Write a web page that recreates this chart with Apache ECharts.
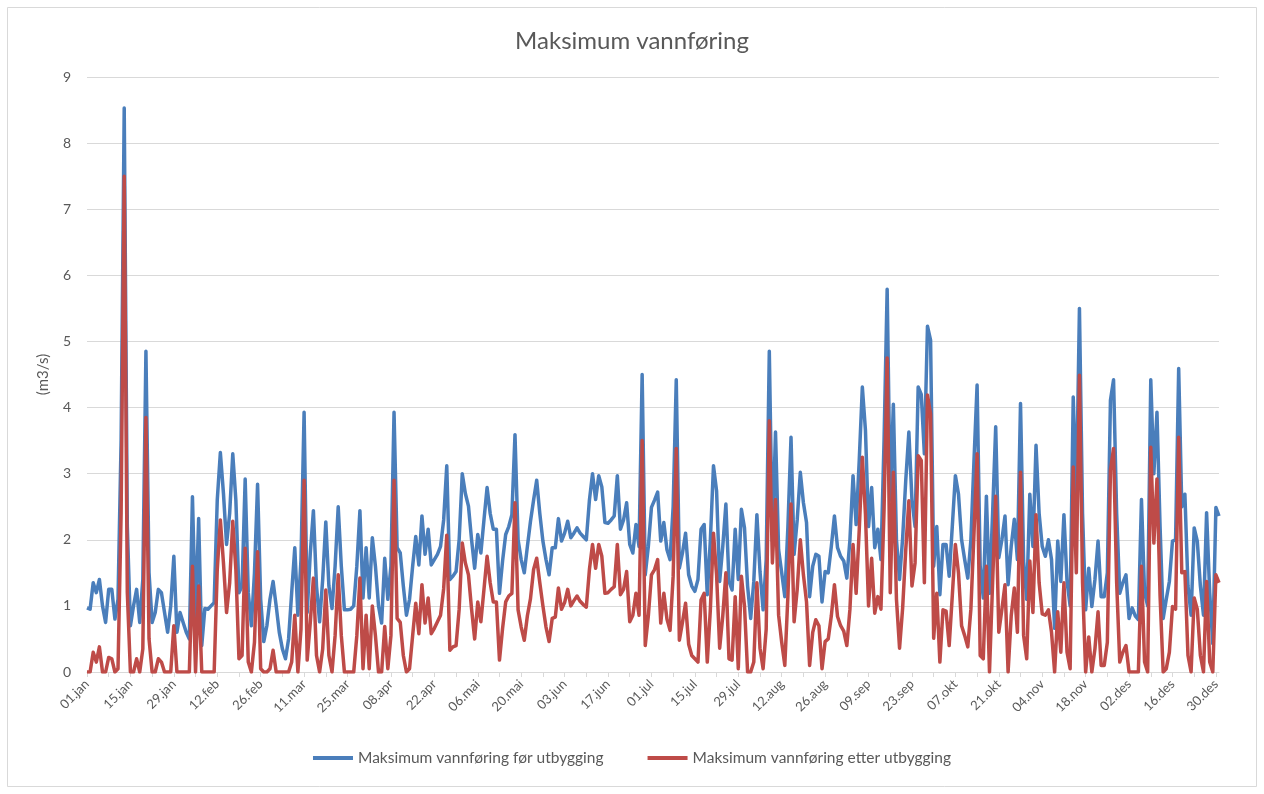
<!DOCTYPE html>
<html>
<head>
<meta charset="utf-8">
<title>Maksimum vannføring</title>
<script src="https://cdn.jsdelivr.net/npm/echarts@6/dist/echarts.min.js"></script>
<style>
  html, body { margin: 0; padding: 0; background: #ffffff; }
  #chart { width: 1264px; height: 794px; }
</style>
</head>
<body>
<div id="chart"></div>
<script>
// dagsdatoer (skuddår, 366 dager)
const monthNames = ['jan', 'feb', 'mar', 'apr', 'mai', 'jun', 'jul', 'aug', 'sep', 'okt', 'nov', 'des']
const monthDays = [31, 29, 31, 30, 31, 30, 31, 31, 30, 31, 30, 31]
const categories = []
monthNames.forEach(function (m, i) {
  for (let d = 1; d <= monthDays[i]; d++) {
    categories.push((d < 10 ? '0' + d : '' + d) + '.' + m)
  }
})

const seriesNames = ['Maksimum vannføring før utbygging', 'Maksimum vannføring etter utbygging']
const yTicks = [0, 1, 2, 3, 4, 5, 6, 7, 8, 9]

// m3/s, før utbygging (14 dager per rad)
const forUtbygging = [
  0.97, 0.95, 1.35, 1.2, 1.4, 1.0, 0.75, 1.25, 1.25, 0.8, 1.1, 3.5, 8.53, 2.2,
  0.7, 1.0, 1.25, 0.75, 1.4, 4.85, 1.5, 0.75, 0.9, 1.25, 1.2, 0.9, 0.6, 1.0,
  1.75, 0.6, 0.9, 0.75, 0.6, 0.5, 2.65, 0.8, 2.32, 0.4, 0.96, 0.95, 1.0, 1.05,
  2.6, 3.32, 2.7, 1.93, 2.4, 3.3, 2.6, 1.2, 1.3, 2.92, 1.2, 0.7, 1.5, 2.84,
  1.1, 0.46, 0.7, 1.1, 1.37, 1.0, 0.6, 0.35, 0.2, 0.5, 1.2, 1.88, 0.86, 1.7,
  3.93, 0.9, 1.8, 2.44, 1.3, 0.76, 1.4, 2.27, 1.3, 0.96, 1.6, 2.5, 1.6, 0.94,
  0.94, 0.95, 1.0, 1.6, 2.44, 1.12, 1.88, 1.12, 2.03, 1.6, 1.0, 0.74, 1.72, 1.1,
  1.6, 3.93, 1.88, 1.8, 1.3, 0.86, 1.1, 1.6, 2.05, 1.62, 2.36, 1.78, 2.16, 1.62,
  1.7, 1.78, 1.9, 2.3, 3.12, 1.4, 1.45, 1.52, 2.0, 3.0, 2.7, 2.51, 2.0, 1.57,
  2.08, 1.8, 2.3, 2.79, 2.4, 2.16, 2.16, 1.19, 1.68, 2.08, 2.2, 2.38, 3.59, 2.0,
  1.7, 1.5, 1.9, 2.28, 2.6, 2.9, 2.4, 1.98, 1.7, 1.47, 1.88, 1.88, 2.32, 1.98,
  2.1, 2.28, 2.03, 2.1, 2.18, 2.1, 2.05, 2.0, 2.6, 3.0, 2.61, 2.97, 2.8, 2.26,
  2.25, 2.3, 2.36, 2.97, 2.16, 2.3, 2.56, 1.93, 1.8, 2.23, 1.9, 4.5, 1.47, 1.9,
  2.49, 2.6, 2.72, 1.98, 2.26, 1.85, 1.7, 2.5, 4.42, 1.57, 1.8, 2.1, 1.47, 1.3,
  1.22, 1.4, 2.16, 2.23, 1.17, 2.0, 3.12, 2.74, 1.37, 1.9, 2.54, 1.37, 1.24, 2.16,
  1.4, 2.46, 2.18, 1.3, 0.81, 1.37, 2.38, 1.52, 0.94, 1.7, 4.85, 1.98, 3.63, 1.85,
  1.5, 1.14, 2.2, 3.55, 1.78, 2.3, 3.02, 2.56, 2.26, 1.14, 1.6, 1.78, 1.75, 1.06,
  1.52, 1.5, 1.9, 2.36, 1.88, 1.75, 1.68, 1.42, 2.0, 2.97, 2.23, 3.2, 4.31, 3.66,
  2.2, 2.79, 1.88, 2.16, 1.7, 3.5, 5.79, 2.6, 4.05, 2.0, 1.4, 2.03, 2.9, 3.63,
  2.6, 2.2, 4.31, 4.2, 3.3, 5.23, 5.02, 1.6, 2.2, 1.17, 1.93, 1.93, 1.45, 2.2,
  2.97, 2.69, 2.0, 1.7, 1.42, 2.0, 3.2, 4.34, 1.6, 1.12, 2.66, 1.19, 2.4, 3.71,
  1.73, 2.0, 2.36, 1.32, 1.9, 2.31, 1.7, 4.06, 1.68, 1.1, 2.69, 1.9, 3.43, 2.4,
  1.9, 1.75, 2.0, 1.7, 0.66, 1.98, 1.37, 2.38, 1.37, 1.0, 4.16, 2.6, 5.5, 2.4,
  0.94, 1.57, 0.99, 1.4, 1.98, 1.14, 1.14, 1.5, 4.11, 4.42, 2.4, 1.19, 1.35, 1.47,
  0.81, 0.97, 0.85, 0.79, 2.61, 1.2, 1.0, 4.42, 3.0, 3.93, 2.2, 0.81, 1.1, 1.37,
  1.98, 2.0, 4.59, 2.5, 2.69, 1.3, 0.86, 2.18, 1.98, 1.3, 0.86, 2.41, 1.2, 0.43,
  2.49, 2.36
]

// m3/s, etter utbygging
const etterUtbygging = [
  0, 0, 0.3, 0.15, 0.38, 0, 0, 0.22, 0.2, 0, 0.05, 2.4, 7.5, 1.2,
  0, 0, 0.2, 0, 0.35, 3.85, 0.5, 0, 0, 0.2, 0.15, 0, 0, 0,
  0.7, 0, 0, 0, 0, 0, 1.6, 0, 1.3, 0, 0, 0, 0, 0,
  1.55, 2.3, 1.65, 0.9, 1.35, 2.28, 1.55, 0.2, 0.25, 1.87, 0.15, 0, 0.45, 1.82,
  0.05, 0, 0, 0.05, 0.33, 0, 0, 0, 0, 0, 0.15, 0.86, 0, 0.65,
  2.9, 0.18, 0.75, 1.42, 0.25, 0, 0.35, 1.24, 0.25, 0, 0.55, 1.47, 0.55, 0,
  0, 0, 0, 0.55, 1.42, 0.05, 0.86, 0.05, 1.0, 0.55, 0, 0, 0.69, 0.05,
  0.55, 2.9, 0.81, 0.75, 0.25, 0, 0.05, 0.55, 1.04, 0.58, 1.32, 0.74, 1.12, 0.58,
  0.66, 0.76, 0.86, 1.26, 2.07, 0.33, 0.38, 0.4, 0.95, 1.95, 1.65, 1.47, 0.95, 0.5,
  1.06, 0.76, 1.25, 1.75, 1.35, 1.06, 1.06, 0.18, 0.66, 1.06, 1.15, 1.19, 2.56, 0.94,
  0.68, 0.48, 0.85, 1.11, 1.55, 1.72, 1.35, 1.0, 0.68, 0.46, 0.81, 0.83, 1.27, 0.95,
  1.05, 1.25, 1.0, 1.08, 1.15, 1.07, 1.02, 0.98, 1.55, 1.93, 1.57, 1.93, 1.75, 1.19,
  1.2, 1.25, 1.29, 1.93, 1.17, 1.25, 1.52, 0.76, 0.86, 1.19, 0.86, 3.5, 0.4, 0.85,
  1.47, 1.55, 1.7, 0.74, 1.19, 0.8, 0.63, 1.45, 3.38, 0.48, 0.75, 1.04, 0.42, 0.25,
  0.2, 0.15, 1.09, 1.19, 0.15, 0.95, 2.1, 1.47, 0.36, 0.85, 1.5, 0.2, 0.18, 1.14,
  0.05, 1.45, 1.0, 0, 0, 0.15, 1.35, 0.36, 0.05, 0.65, 3.8, 1.65, 2.61, 0.86,
  0.45, 0.1, 1.15, 2.54, 0.76, 1.25, 2.0, 1.47, 1.06, 0.1, 0.6, 0.79, 0.7, 0.05,
  0.46, 0.5, 0.85, 1.32, 0.84, 0.7, 0.62, 0.4, 0.95, 1.93, 1.19, 2.15, 3.25, 2.39,
  1.0, 1.72, 0.89, 1.14, 0.95, 2.45, 4.75, 1.2, 3.02, 1.1, 0.36, 0.97, 1.85, 2.59,
  1.3, 1.65, 3.27, 3.2, 1.35, 4.19, 3.9, 0.51, 1.19, 0.15, 0.94, 0.92, 0.4, 1.15,
  1.93, 1.5, 0.7, 0.55, 0.38, 0.95, 2.1, 3.3, 0.25, 0.2, 1.6, 0, 1.35, 2.66,
  0.6, 0.95, 1.32, 0, 0.85, 1.27, 0.6, 3.02, 0.55, 0.2, 1.68, 0.9, 2.38, 1.35,
  0.88, 0.86, 0.94, 0.6, 0, 0.91, 0.3, 1.35, 0.3, 0.05, 3.1, 1.5, 4.49, 1.35,
  0, 0.53, 0, 0.35, 0.91, 0.1, 0.1, 0.45, 3.05, 3.38, 1.35, 0.15, 0.3, 0.4,
  0, 0, 0, 0, 1.6, 0.15, 0, 3.4, 1.95, 2.92, 1.15, 0, 0.05, 0.3,
  0.99, 0.95, 3.55, 1.5, 1.52, 0.25, 0, 1.12, 0.95, 0.25, 0, 1.37, 0.15, 0,
  1.47, 1.35
]

const textColor = '#595959'
const gridColor = '#d9d9d9'
const fontFamily = 'Lato, "Liberation Sans", sans-serif'

const chart = echarts.init(document.getElementById('chart'), null, { renderer: 'canvas' })

const option = {
  animation: false,
  backgroundColor: '#ffffff',
  color: ['#4a7ebb', '#be4b48'],
  textStyle: { fontFamily: fontFamily },
  title: {
    text: 'Maksimum vannføring',
    left: 'center',
    top: 24,
    textStyle: { color: textColor, fontSize: 24, fontWeight: 'normal', fontFamily: fontFamily }
  },
  graphic: [
    {
      type: 'rect',
      shape: { x: 7.5, y: 7.5, width: 1249, height: 779 },
      style: { fill: 'none', stroke: '#d9d9d9', lineWidth: 1 },
      silent: true
    }
  ],
  legend: {
    data: seriesNames,
    bottom: 23,
    left: 'center',
    icon: 'rect',
    itemWidth: 40,
    itemHeight: 4,
    itemGap: 44,
    itemStyle: { borderWidth: 0 },
    textStyle: { color: textColor, fontSize: 15.5, fontFamily: fontFamily }
  },
  grid: {
    left: 87,
    right: 45,
    top: 77,
    bottom: 122,
    containLabel: false
  },
  xAxis: {
    type: 'category',
    data: categories,
    boundaryGap: false,
    axisLine: { lineStyle: { color: gridColor, width: 1 } },
    axisTick: { show: true, interval: 6, length: 5, lineStyle: { color: gridColor } },
    axisLabel: {
      interval: 13,
      rotate: 45,
      color: textColor,
      fontSize: 13,
      margin: 10
    },
    splitLine: { show: false }
  },
  yAxis: {
    type: 'value',
    min: yTicks[0],
    max: yTicks[yTicks.length - 1],
    interval: 1,
    name: '(m3/s)',
    nameLocation: 'middle',
    nameRotate: 90,
    nameGap: 36,
    nameTextStyle: { color: textColor, fontSize: 15 },
    axisLine: { show: false },
    axisTick: { show: false },
    axisLabel: { color: textColor, fontSize: 14, margin: 16 },
    splitLine: { lineStyle: { color: gridColor, width: 1 } }
  },
  series: [
    {
      name: seriesNames[0],
      type: 'line',
      data: forUtbygging,
      showSymbol: false,
      symbol: 'none',
      lineStyle: { width: 3.5, color: '#4a7ebb', join: 'round' },
      itemStyle: { color: '#4a7ebb' }
    },
    {
      name: seriesNames[1],
      type: 'line',
      data: etterUtbygging,
      showSymbol: false,
      symbol: 'none',
      lineStyle: { width: 3.5, color: '#be4b48', join: 'round' },
      itemStyle: { color: '#be4b48' }
    }
  ]
}

chart.setOption(option)
</script>
</body>
</html>
